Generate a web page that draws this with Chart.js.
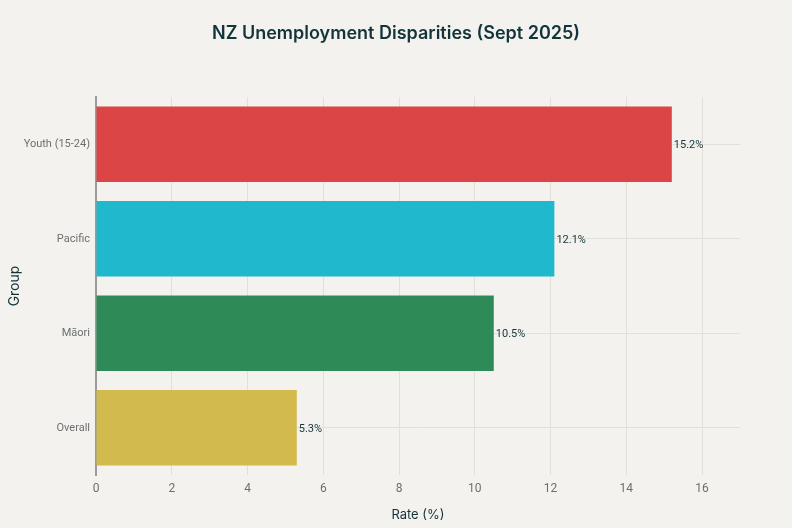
<!DOCTYPE html>
<html>
<head>
<meta charset="utf-8">
<script src="https://cdn.jsdelivr.net/npm/chart.js@4.4.1/dist/chart.umd.min.js"></script>
<style>
  html, body { margin: 0; padding: 0; background: #f4f2ee; }
  #wrap { width: 792px; height: 528px; }
</style>
</head>
<body>
<div id="wrap"><canvas id="chartBar" width="792" height="528"></canvas></div>
<script>
// data
const groups = ["Youth (15-24)", "Pacific", "Māori", "Overall"];
const rates = [15.2, 12.1, 10.5, 5.3];
const barColors = ["#db4545", "#1fb8cd", "#2e8b57", "#d2ba4c"];
const xTicks = [0, 2, 4, 6, 8, 10, 12, 14, 16];
const chartTitle = "NZ Unemployment Disparities (Sept 2025)";

const textDark = "#13343b";
const textGray = "#6b6f70";

// page colour + title centred on the whole canvas
const bgPlugin = {
  id: "bg",
  beforeDraw(chart) {
    const ctx = chart.ctx;
    ctx.save();
    ctx.fillStyle = "#f4f2ee";
    ctx.fillRect(0, 0, chart.width, chart.height);
    ctx.font = "600 18px Inter, 'Open Sans', sans-serif";
    ctx.fillStyle = textDark;
    ctx.textAlign = "center";
    ctx.textBaseline = "middle";
    ctx.fillText(chartTitle, chart.width / 2, 34);
    ctx.restore();
  }
};

// "15.2%" labels at bar ends
const valueLabels = {
  id: "valueLabels",
  afterDatasetsDraw(chart) {
    const ctx = chart.ctx;
    const meta = chart.getDatasetMeta(0);
    ctx.save();
    ctx.font = "11px Roboto, 'Open Sans', sans-serif";
    ctx.fillStyle = textDark;
    ctx.textAlign = "left";
    ctx.textBaseline = "middle";
    meta.data.forEach((bar, i) => {
      ctx.fillText(rates[i].toFixed(1) + "%", bar.x + 2, bar.y + 1);
    });
    ctx.restore();
  }
};

const configBarChart = {
  type: "bar",
  data: {
    labels: groups,
    datasets: [{
      data: rates,
      backgroundColor: barColors,
      borderWidth: 0,
      barPercentage: 0.8,
      categoryPercentage: 1.0
    }]
  },
  options: {
    indexAxis: "y",
    responsive: false,
    animation: false,
    layout: { padding: { left: 6, right: 52, top: 97, bottom: 5 } },
    plugins: {
      legend: { display: false },
      tooltip: { enabled: false },
      title: { display: false }
    },
    scales: {
      x: {
        min: 0,
        max: 17,
        afterBuildTicks(scale) {
          scale.ticks = xTicks.map(v => ({ value: v }));
        },
        afterFit(scale) { scale.height = 48; },
        grid: { color: "#e2dfd8", drawTicks: false },
        border: { display: false },
        ticks: {
          color: textGray,
          padding: 7,
          font: { family: "Roboto, 'Open Sans', sans-serif", size: 12 }
        },
        title: {
          display: true,
          text: "Rate (%)",
          color: textDark,
          font: { family: "Inter, 'Open Sans', sans-serif", size: 13 },
          padding: 0
        }
      },
      y: {
        afterFit(scale) { scale.width = 90; },
        grid: { color: "#e2dfd8", drawTicks: false, offset: false },
        border: { display: true, color: "#9a9a9a", width: 2 },
        ticks: {
          color: textGray,
          padding: 6,
          font: { family: "Roboto, 'Open Sans', sans-serif", size: 11 }
        },
        title: {
          display: true,
          text: "Group",
          color: textDark,
          font: { family: "Inter, 'Open Sans', sans-serif", size: 14 },
          padding: 0
        }
      }
    }
  },
  plugins: [bgPlugin, valueLabels]
};

var chartBar = new Chart(document.getElementById("chartBar"), configBarChart);
</script>
</body>
</html>
